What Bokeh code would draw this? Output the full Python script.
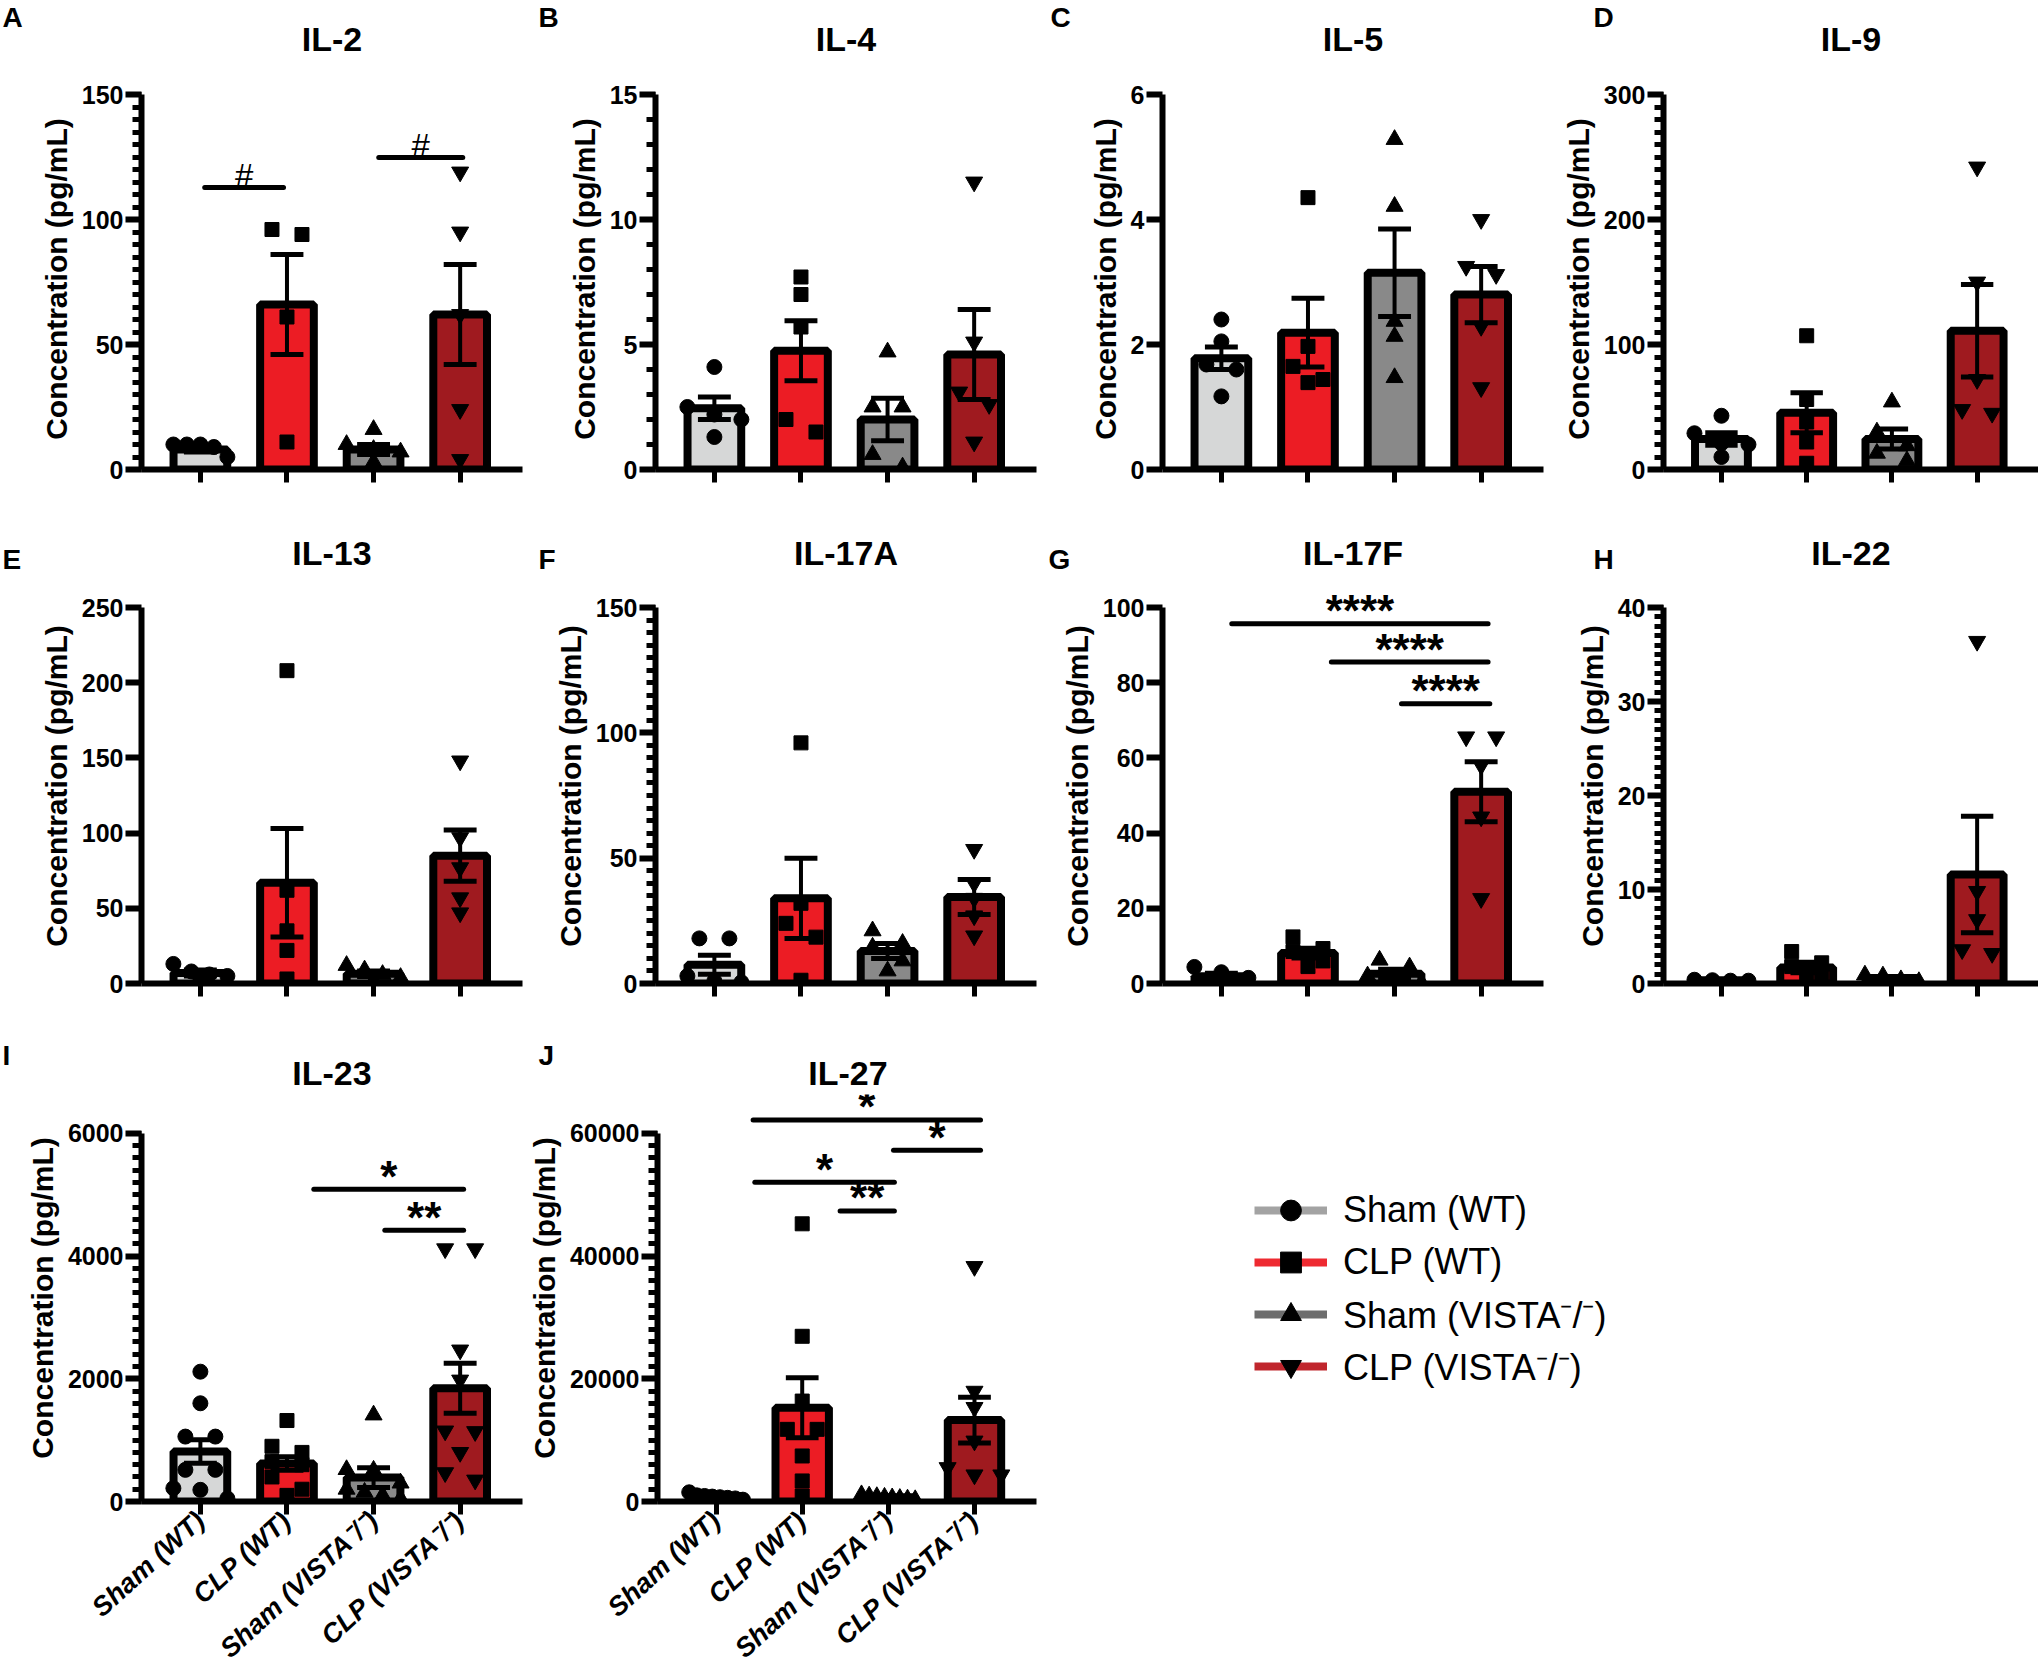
from bokeh.plotting import figure
from bokeh.models import Range1d, FixedTicker, Label, Legend, LegendItem
from bokeh.layouts import row, column
from bokeh.core.properties import value
from bokeh.embed import file_html
from bokeh.resources import INLINE

FONT = "Liberation Sans"

# ---------------- data ----------------
groups = ["Sham (WT)", "CLP (WT)", "Sham (VISTA\u207b/\u207b)", "CLP (VISTA\u207b/\u207b)"]
bar_colors = ["#d6d7d7", "#ec1c24", "#898989", "#9f1a1f"]
legend_line_colors = ["#a3a3a3", "#ee2a31", "#6d6d6d", "#c0262d"]
markers = ["circle", "square", "triangle", "inverted_triangle"]

il2_values = [[10, 10, 10, 9, 5], [96, 94, 61, 11], [16, 10, 8, 7, 3], [119, 95, 62, 24, 4]]
il2_means = [8, 66, 8, 62]
il2_sems = [1, 20, 2, 20]
il2_sig = [(1.05, 1.96, 112.8, "#"), (3.06, 4.03, 124.8, "#")]

il4_values = [[4.1, 2.5, 2.2, 2.0, 1.3], [7.7, 7.0, 5.7, 2.0, 1.5], [4.7, 2.5, 2.5, 0.6, 0.1], [11.5, 5.1, 3.1, 2.6, 1.1]]
il4_means = [2.45, 4.75, 2.0, 4.6]
il4_sems = [0.45, 1.2, 0.85, 1.8]

il5_values = [[2.4, 2.05, 1.68, 1.6, 1.17], [4.35, 1.97, 1.65, 1.44, 1.39], [5.28, 4.21, 2.37, 2.13, 1.47], [4.0, 3.25, 3.12, 2.29, 1.31]]
il5_means = [1.78, 2.19, 3.15, 2.8]
il5_sems = [0.18, 0.55, 0.7, 0.45]

il9_values = [[43, 29, 21, 20, 10], [107, 56, 38, 22, 5], [54, 30, 19, 13, 7], [242, 150, 72, 48, 45]]
il9_means = [24.5, 45.5, 24.5, 111]
il9_sems = [5, 16, 8, 37]

il13_values = [[13, 8, 6, 5, 3], [208, 62, 35, 22, 3], [12, 9, 6, 4, 2], [148, 97, 77, 57, 47]]
il13_means = [7, 67, 6.5, 85]
il13_sems = [2, 36, 1.8, 17]

il17a_values = [[18, 18, 3, 1, 0.5], [96, 32, 24, 18.5, 1.3], [21, 16, 14.5, 9, 5], [53.5, 40, 34, 27, 19]]
il17a_means = [7.5, 34, 13, 34.5]
il17a_sems = [3.8, 16, 3, 7]

il17f_values = [[4.4, 3.0, 1.5, 0.5, 0.3], [12.4, 9.3, 8.5, 6, 4.5], [6.2, 4.4, 2, 0.5, 0.2], [65.6, 65.6, 58, 44.3, 22.6]]
il17f_means = [1.9, 8.1, 2.6, 51]
il17f_sems = [0.8, 1.3, 1.2, 8]
il17f_sig = [(1.12, 4.08, 95.7, "****"), (2.27, 4.08, 85.5, "****"), (3.08, 4.1, 74.4, "****")]

il22_values = [[0.4, 0.35, 0.3, 0.3], [3.4, 2.2, 1.8, 0.8, 0.3], [0.9, 0.8, 0.4, 0.2], [36.4, 9.8, 6.8, 3.6, 3.2]]
il22_means = [0.35, 1.7, 0.58, 11.6]
il22_sems = [0.03, 0.55, 0.15, 6.2]

il23_values = [[2116, 1601, 1058, 1058, 516, 516, 217, 190, 50],
               [1320, 900, 800, 650, 600, 400, 200, 100],
               [1410, 520, 510, 300, 200, 150, 100, 50],
               [4120, 4120, 2470, 1980, 1150, 1140, 800, 470, 350]]
il23_means = [815, 620, 390, 1845]
il23_sems = [190, 110, 160, 407]
il23_sig = [(2.31, 4.04, 5089, "*"), (3.13, 4.04, 4421, "**")]

il27_values = [[1500, 1000, 900, 800, 700, 600, 500, 300],
               [45265, 26930, 16370, 11760, 11760, 7420, 3350, 900],
               [1100, 900, 800, 700, 600, 500, 400, 300],
               [38310, 17980, 15330, 9860, 5530, 4340, 4340]]
il27_means = [900, 15280, 700, 13270]
il27_sems = [130, 4880, 90, 3740]
il27_sig = [(1.43, 4.07, 62200, "*"), (3.06, 4.07, 57270, "*"), (1.45, 3.07, 52030, "*"), (2.44, 3.07, 47370, "**")]

# ---------------- helpers ----------------
X0, X1 = 0.32, 4.72
NAME_PANEL_H = 39  # estimated height of the 34px name label panel (letter panel sits above it)


def swarm_offsets(vals, unit_px, x_px):
    order = sorted(range(len(vals)), key=lambda i: -vals[i])
    clusters = []
    for i in order:
        if clusters and (vals[clusters[-1][0]] - vals[i]) * unit_px < 14:
            clusters[-1].append(i)
        else:
            clusters.append([i])
    offs = [0.0] * len(vals)
    for c in clusters:
        n = len(c)
        if n == 1:
            continue
        step = min(30.0, 54.0 / (n - 1))
        for k, i in enumerate(c):
            offs[i] = (k - (n - 1) / 2) * step / x_px
    return offs


# row geometry: canvas height, border top/bottom, zero->top-tick px, name/letter height above frame top
ROWS = {
    1: dict(height=512, bt=88, bb=43, top_px=375, name_up=50, letter_up=72),
    2: dict(height=510, bt=76, bb=39, top_px=376, name_up=36, letter_up=30),
    3: dict(height=655, bt=72, bb=175, top_px=369, name_up=22, letter_up=40),
}


def make_panel(title, letter, vals, means, sems, top, major, minor, sig, width, bl, br, rown,
               letter_dx, xlabels):
    rc = ROWS[rown]
    frame_h = rc["height"] - rc["bt"] - rc["bb"]
    frame_w = width - bl - br
    x_px = frame_w / (X1 - X0)
    unit_px = rc["top_px"] / top
    y_end = top * frame_h / rc["top_px"]

    p = figure(width=width, height=rc["height"], x_range=Range1d(X0, X1), y_range=Range1d(0, y_end),
               output_backend="svg", toolbar_location=None,
               min_border_left=bl, min_border_right=br, min_border_top=rc["bt"], min_border_bottom=rc["bb"])
    p.outline_line_color = None
    p.xgrid.visible = False
    p.ygrid.visible = False
    p.background_fill_color = "white"
    p.title.visible = False

    # panel name (closest panel above the frame) and panel letter (next panel above)
    p.add_layout(Label(x=frame_w / 2, y=rc["name_up"], x_units="screen", y_units="screen", text=title,
                       text_font=FONT, text_font_size="34px", text_font_style="bold", text_color="black",
                       text_align="center", text_baseline="middle"), "above")
    p.add_layout(Label(x=letter_dx, y=rc["letter_up"] - NAME_PANEL_H, x_units="screen", y_units="screen",
                       text=letter, text_font=FONT, text_font_size="28px", text_font_style="bold",
                       text_color="black", text_align="left", text_baseline="middle"), "above")

    xs = [1, 2, 3, 4]
    p.vbar(x=xs, top=means, width=0.62, bottom=0, fill_color=bar_colors, line_color="black", line_width=8)

    lo = [m - s for m, s in zip(means, sems)]
    hi = [m + s for m, s in zip(means, sems)]
    p.segment(x0=xs, y0=lo, x1=xs, y1=hi, line_color="black", line_width=4)
    cw = 0.19
    p.segment(x0=[x - cw for x in xs], y0=hi, x1=[x + cw for x in xs], y1=hi, line_color="black", line_width=5)
    p.segment(x0=[x - cw for x in xs], y0=lo, x1=[x + cw for x in xs], y1=lo, line_color="black", line_width=5)

    msize = {"circle": 15, "square": 14, "triangle": 17, "inverted_triangle": 17}
    for gi, gv in enumerate(vals):
        offs = swarm_offsets(gv, unit_px, x_px)
        p.scatter(x=[xs[gi] + o for o in offs], y=gv, marker=markers[gi], size=msize[markers[gi]],
                  fill_color="black", line_color="black")

    for (a, b, yv, lab) in (sig or []):
        p.segment(x0=[a], y0=[yv], x1=[b], y1=[yv], line_color="black", line_width=5, line_cap="round")
        if lab == "#":
            p.text(x=[(a + b) / 2], y=[yv], text=[lab], text_align="center", text_baseline="alphabetic",
                   y_offset=-12, text_font=value(FONT), text_font_size="33px", text_color="black")
        else:
            p.text(x=[(a + b) / 2], y=[yv], text=[lab], text_align="center", text_baseline="alphabetic",
                   y_offset=-13, text_font=value(FONT), text_font_size="44px", text_font_style="bold",
                   text_color="black")

    # y axis
    ya = p.yaxis[0]
    majors = [i * major for i in range(int(round(top / major)) + 1)]
    minors = [i * minor for i in range(int(round(top / minor)) + 1)] if minor else []
    ya.ticker = FixedTicker(ticks=majors, minor_ticks=minors)
    ya.bounds = (0, top)
    ya.axis_line_width = 6
    ya.major_tick_line_width = 6
    ya.major_tick_out = 16
    ya.major_tick_in = 0
    ya.minor_tick_line_width = 5
    ya.minor_tick_out = 9
    ya.minor_tick_in = 0
    ya.major_label_standoff = 2
    ya.major_label_text_font = FONT
    ya.major_label_text_font_size = "25px"
    ya.major_label_text_font_style = "bold"
    ya.major_label_text_color = "black"
    ya.axis_label = "Concentration (pg/mL)"
    ya.axis_label_text_font = FONT
    ya.axis_label_text_font_size = "30px"
    ya.axis_label_text_font_style = "bold"
    ya.axis_label_text_color = "black"
    ya.axis_label_standoff = 6

    # x axis
    xa = p.xaxis[0]
    xa.ticker = FixedTicker(ticks=xs, minor_ticks=[])
    xa.axis_line_width = 6
    xa.major_tick_line_width = 5
    xa.major_tick_out = 13
    xa.major_tick_in = 0
    xa.minor_tick_line_color = None
    if xlabels:
        xa.major_label_overrides = {i + 1: g for i, g in enumerate(groups)}
        xa.major_label_orientation = 0.74
        xa.major_label_text_font = FONT
        xa.major_label_text_font_size = "27px"
        xa.major_label_text_font_style = "bold italic"
        xa.major_label_text_color = "black"
        xa.major_label_standoff = 2
    else:
        xa.major_label_overrides = {i + 1: "" for i in range(4)}
        xa.major_label_text_font_size = "1px"
    return p


# columns: width, border_left, border_right ; letter offset: px from frame-left edge
pA = make_panel("IL-2", "A", il2_values, il2_means, il2_sems, 150, 50, 5, il2_sig, 524, 141, 2, 1, -139, False)
pB = make_panel("IL-4", "B", il4_values, il4_means, il4_sems, 15, 5, 1, None, 515, 131, 3, 1, -117, False)
pC = make_panel("IL-5", "C", il5_values, il5_means, il5_sems, 6, 2, None, None, 506, 123, 2, 1, -112, False)
pD = make_panel("IL-9", "D", il9_values, il9_means, il9_sems, 300, 100, 10, None, 493, 118, 0, 1, -70, False)

pE = make_panel("IL-13", "E", il13_values, il13_means, il13_sems, 250, 50, None, None, 524, 141, 2, 2, -139, False)
pF = make_panel("IL-17A", "F", il17a_values, il17a_means, il17a_sems, 150, 50, 5, None, 515, 131, 3, 2, -117, False)
pG = make_panel("IL-17F", "G", il17f_values, il17f_means, il17f_sems, 100, 20, None, il17f_sig, 506, 123, 2, 2, -114, False)
pH = make_panel("IL-22", "H", il22_values, il22_means, il22_sems, 40, 10, 1, None, 493, 118, 0, 2, -70, False)

pI = make_panel("IL-23", "I", il23_values, il23_means, il23_sems, 6000, 2000, 200, il23_sig, 524, 141, 2, 3, -139, True)
pJ = make_panel("IL-27", "J", il27_values, il27_means, il27_sems, 60000, 20000, 2000, il27_sig, 515, 131, 3, 3, -119, True)

# legend panel (same vertical borders as its row so the frames line up)
leg = figure(width=999, height=ROWS[3]["height"], x_range=Range1d(0, 1), y_range=Range1d(0, 1),
             output_backend="svg", toolbar_location=None, x_axis_type=None, y_axis_type=None,
             min_border_left=0, min_border_right=0, min_border_top=ROWS[3]["bt"], min_border_bottom=ROWS[3]["bb"])
leg.outline_line_color = None
leg.title.visible = False
items = []
for gi, g in enumerate(groups):
    lr = leg.line(x=[-5, -4], y=[-5, -5], line_color=legend_line_colors[gi], line_width=8)
    sr = leg.scatter(x=[-5], y=[-5], marker=markers[gi], size=20, fill_color="black", line_color="black")
    items.append(LegendItem(label=g, renderers=[lr, sr]))
legend = Legend(items=items, location=(215, 109), padding=0, margin=0, spacing=0,
                glyph_width=73, glyph_height=52, label_height=52, label_standoff=16,
                label_text_font=FONT, label_text_font_size="36px", label_text_color="black",
                label_text_baseline="middle", border_line_color=None, background_fill_alpha=0)
leg.add_layout(legend)

layout = column(row(pA, pB, pC, pD), row(pE, pF, pG, pH), row(pI, pJ, leg))

open("out.html", "w").write(file_html(layout, INLINE))
